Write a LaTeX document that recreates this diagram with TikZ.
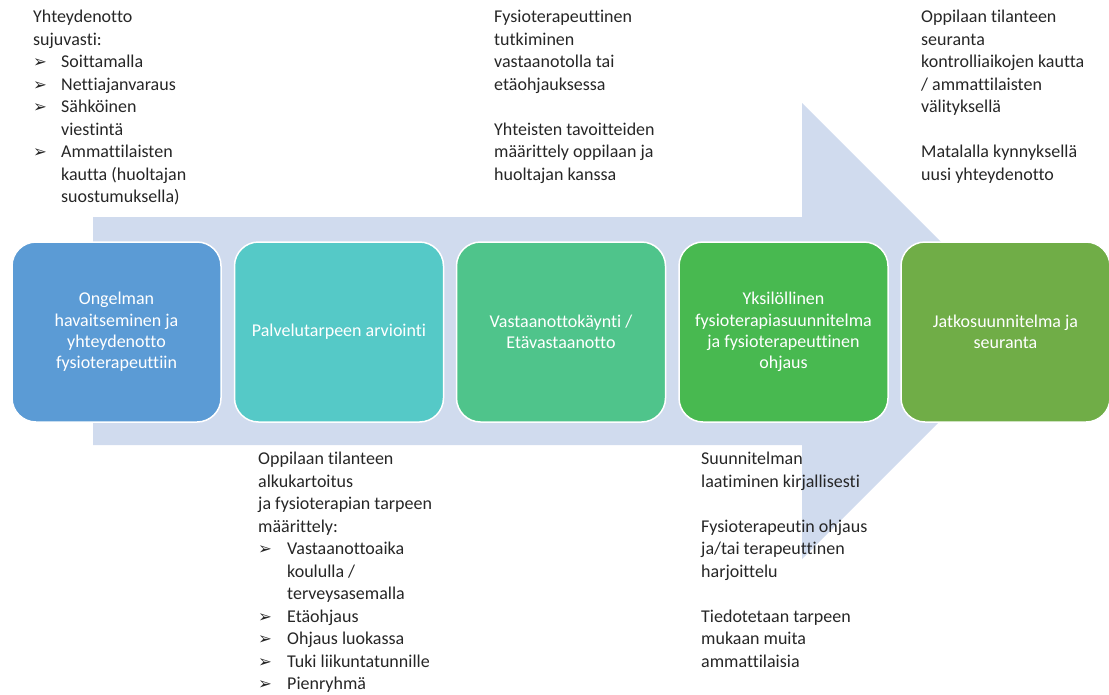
\documentclass[tikz,border=0pt]{standalone}
\usepackage{fontspec}
\setmainfont{Carlito}[Ligatures={NoCommon}]
\newfontfamily\dejavu{DejaVu Sans}
\definecolor{arrowfill}{HTML}{D0DBEE}
\definecolor{cA}{HTML}{5B9BD5}
\definecolor{cB}{HTML}{55C9C7}
\definecolor{cC}{HTML}{4FC48B}
\definecolor{cD}{HTML}{48B950}
\definecolor{cE}{HTML}{70AD47}
\definecolor{txt}{HTML}{262626}
\newcommand{\bul}[1]{\makebox[#1][l]{{\dejavu\fontsize{16.5}{16}\selectfont ➢}}}
\begin{document}
\begin{tikzpicture}[x=1pt,y=-1pt,
  stepbox/.style={rounded corners=24pt, draw=white, line width=1.5pt, minimum width=209pt, minimum height=180pt, inner sep=4pt, align=center, text=white, font=\fontsize{18}{21.3}\selectfont},
  note/.style={anchor=north west, inner sep=0pt, align=left, text=txt, font=\fontsize{18}{22.5}\selectfont}]
\useasboundingbox (0,0) rectangle (1109,694);
\fill[arrowfill] (93,217) -- (802,217) -- (802,103) -- (1030,331) -- (802,559) -- (802,445) -- (93,445) -- cycle;
\node[stepbox, fill=cA] (b1) at (116.5,332) {Ongelman\\havaitseminen ja\\yhteydenotto\\fysioterapeuttiin};
\node[stepbox, fill=cB] (b2) at (339,332) {Palvelutarpeen arviointi};
\node[stepbox, fill=cC] (b3) at (561,332) {Vastaanottokäynti /\\Etävastaanotto};
\node[stepbox, fill=cD] (b4) at (783.5,332) {Yksilöllinen\\fysioterapiasuunnitelma\\ja fysioterapeuttinen\\ohjaus};
\node[stepbox, fill=cE] (b5) at (1005.5,332) {Jatkosuunnitelma ja\\seuranta};
\node[note] (tA) at (33,10) {Yhteydenotto\\sujuvasti:\\\bul{28pt}Soittamalla\\\bul{28pt}Nettiajanvaraus\\\bul{28pt}Sähköinen\\\hspace*{28pt}viestintä\\\bul{28pt}Ammattilaisten\\\hspace*{28pt}kautta (huoltajan\\\hspace*{28pt}suostumuksella)};
\node[note] (tB) at (494,10) {Fysioterapeuttinen\\tutkiminen\\vastaanotolla tai\\etäohjauksessa\\[22.5pt]Yhteisten tavoitteiden\\määrittely oppilaan ja\\huoltajan kanssa};
\node[note] (tC) at (921,10) {Oppilaan tilanteen\\seuranta\\kontrolliaikojen kautta\\/ ammattilaisten\\välityksellä\\[22.5pt]Matalalla kynnyksellä\\uusi yhteydenotto};
\node[note] (tD) at (258,452) {Oppilaan tilanteen\\alkukartoitus\\ja fysioterapian tarpeen\\määrittely:\\\bul{29pt}Vastaanottoaika\\\hspace*{29pt}koululla /\\\hspace*{29pt}terveysasemalla\\\bul{29pt}Etäohjaus\\\bul{29pt}Ohjaus luokassa\\\bul{29pt}Tuki liikuntatunnille\\\bul{29pt}Pienryhmä};
\node[note] (tE) at (701,452) {Suunnitelman\\laatiminen kirjallisesti\\[22.5pt]Fysioterapeutin ohjaus\\ja/tai terapeuttinen\\harjoittelu\\[22.5pt]Tiedotetaan tarpeen\\mukaan muita\\ammattilaisia};
\end{tikzpicture}
\end{document}
